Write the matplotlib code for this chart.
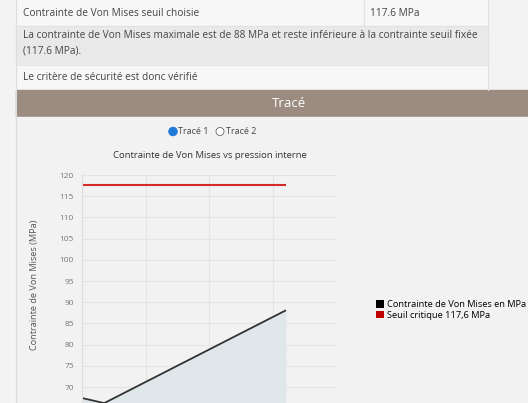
import matplotlib
matplotlib.use("Agg")
import matplotlib.pyplot as plt
from matplotlib.patches import Rectangle, Circle, Patch

plt.rcParams['font.family'] = ['Open Sans', 'DejaVu Sans']

# data
pression = [0.0, 0.35, 3.2]
contrainte = [67.4, 66.2, 88.0]
seuil = 117.6
y_ticks = [70, 75, 80, 85, 90, 95, 100, 105, 110, 115, 120]
legend_labels = ["Contrainte de Von Mises en MPa", "Seuil critique 117,6 MPa"]

W, H = 528, 403
fig = plt.figure(figsize=(W / 100, H / 100), dpi=100)
fig.patch.set_facecolor("#f3f3f3")

# page background, drawn in pixel coordinates
bg = fig.add_axes([0, 0, 1, 1])
bg.set_xlim(0, W)
bg.set_ylim(H, 0)
bg.axis("off")

bg.add_patch(Rectangle((16, 0), 472, 26, color="#f7f7f7"))
bg.add_patch(Rectangle((16, 26), 472, 39, color="#e9e9e9"))
bg.add_patch(Rectangle((16, 65), 472, 25, color="#f7f7f7"))
bg.add_patch(Rectangle((16, 90), W - 16, 27, color="#9b8b80"))
bg.add_patch(Rectangle((16, 117), W - 16, H - 117, color="#f2f2f2"))
bg.plot([15.5, 15.5], [0, H], color="#dcdcdc", lw=0.8)
bg.plot([364, 364], [0, 26], color="#e2e2e2", lw=0.8)
bg.plot([488, 488], [0, 90], color="#e2e2e2", lw=0.8)
for yy in (26, 65):
    bg.plot([16, 488], [yy, yy], color="#e0e0e0", lw=0.6)

txt = dict(fontsize=7.3, color="#444444", va="center", ha="left")
bg.text(23, 13, "Contrainte de Von Mises seuil choisie", **txt)
bg.text(370, 13, "117.6 MPa", **txt)
bg.text(23, 36, "La contrainte de Von Mises maximale est de 88 MPa et reste inférieure à la contrainte seuil fixée", **txt)
bg.text(23, 51, "(117.6 MPa).", **txt)
bg.text(23, 77, "Le critère de sécurité est donc vérifié", **txt)
bg.text(289, 103.5, "Tracé", fontsize=9.5, color="white", ha="center", va="center")

# radio buttons
bg.add_patch(Circle((173, 131.5), 3.6, facecolor="#1e78d7", edgecolor="#1e78d7"))
bg.add_patch(Circle((173, 131.5), 4.3, facecolor="none", edgecolor="#1e78d7", lw=0.6))
bg.text(178, 132, "Tracé 1", fontsize=6.5, color="#444444", va="center")
bg.add_patch(Circle((220, 131.5), 4.0, facecolor="white", edgecolor="#666666", lw=0.6))
bg.text(226, 132, "Tracé 2", fontsize=6.5, color="#444444", va="center")

bg.text(210, 155, "Contrainte de Von Mises vs pression interne",
        fontsize=6.8, color="#333333", ha="center", va="center")

# chart axes (bottom runs off the screenshot)
ax = fig.add_axes([82 / W, 1 - 429.4 / H, (336 - 82) / W, (429.4 - 175) / H])
ax.set_facecolor("#f2f2f2")
ax.set_xlim(0, 4)
ax.set_ylim(60, 120)
ax.set_yticks(y_ticks)
ax.set_xticks([0, 1, 2, 3, 4])
ax.set_xticklabels([])
ax.grid(True, color="#e4e4e4", lw=0.8)
ax.set_axisbelow(True)
for s in ("top", "right", "bottom"):
    ax.spines[s].set_visible(False)
ax.spines["left"].set_color("#dddddd")
ax.tick_params(axis="y", length=0, pad=6, labelsize=6, labelcolor="#777777")
ax.tick_params(axis="x", length=0)

ax.fill_between(pression, contrainte, 60, color="#dfe7ea")
ax.plot(pression, contrainte, color="#333333", lw=1.3)
ax.plot([pression[0], pression[-1]], [seuil, seuil], color="#d42a2a", lw=1.5)

ax.set_ylabel("Contrainte de Von Mises (MPa)", fontsize=6.6, color="#555555")
ax.yaxis.set_label_coords(-0.17, 1 - (285 - 175) / (429.4 - 175))

handles = [Patch(facecolor="black"), Patch(facecolor="#c00000")]
fig.legend(handles, legend_labels, loc="center left",
           bbox_to_anchor=(371 / W, 1 - 310 / H), frameon=False,
           fontsize=6.7, handlelength=0.85, handleheight=0.85,
           handletextpad=0.35, labelspacing=0.2, borderpad=0)

fig.savefig("out.png", dpi=100, facecolor=fig.get_facecolor())
